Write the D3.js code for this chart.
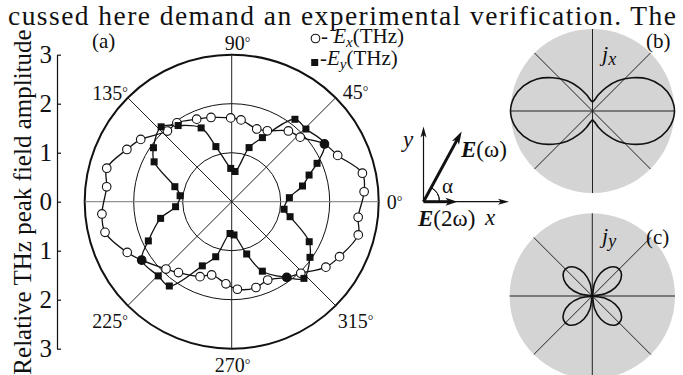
<!DOCTYPE html>
<html><head><meta charset="utf-8">
<script src="https://cdn.jsdelivr.net/npm/d3@7"></script>
<style>
html,body{margin:0;padding:0;background:#fff;}
svg{display:block;}
text{font-family:"Liberation Serif";}
</style></head><body>
<svg id="fig" width="683" height="375" font-family="Liberation Serif"></svg>
<script>
// Measured THz field amplitudes: polar angle (deg) and relative amplitude
const exAngles = [4.3, 12.3, 23.6, 31.9, 43.3, 51.3, 63.3, 71, 83.5, 90.7, 103.8, 113, 124.8, 132.3, 145.6, 153.5, 165, 173.2, 185.4, 193.6, 205.9, 213, 225.7, 233.1, 247.1, 254.7, 266, 273.7, 285.8, 294.7, 306, 314, 325.2, 333, 345.3, 353];
const exValues = [2.71, 2.73, 2.36, 2.23, 1.92, 1.85, 1.62, 1.57, 1.68, 1.71, 1.77, 1.83, 1.96, 1.95, 2.25, 2.39, 2.64, 2.57, 2.66, 2.66, 2.37, 2.19, 1.92, 1.81, 1.66, 1.55, 1.68, 1.79, 1.82, 1.76, 1.91, 2.03, 2.34, 2.47, 2.67, 2.60];
const eyAngles = [4, 12.5, 19, 24.2, 31.9, 44.4, 52.5, 64.4, 72.2, 83.7, 91.7, 106, 112.5, 125.1, 133.3, 145.4, 152.8, 165.2, 173.4, 185.1, 193.2, 205.2, 213, 225.3, 233.5, 245.4, 253.8, 267, 274, 286, 293.8, 306, 313.3, 324.6, 332.7, 345.6, 351.8];
const eyValues = [1.18, 1.48, 1.67, 1.91, 2.23, 2.12, 2.12, 1.45, 1.16, 0.62, 0.68, 1.17, 1.63, 1.90, 2.10, 1.94, 1.78, 1.20, 1.06, 1.15, 1.49, 1.88, 2.19, 2.13, 2.14, 1.44, 1.17, 0.65, 0.68, 1.11, 1.55, 1.91, 2.15, 1.96, 1.78, 1.23, 1.08];

// Axis ticks and angle labels of the polar plot
const yTickValues = [3, 2, 1, 0, -1, -2, -3];
const ringValues = [1, 2, 3];
const spokeAngles = [0, 45, 90, 135];
const angleLabelDeg = [0, 45, 90, 135, 225, 270, 315];

// Calculated current patterns (relative radius, first quadrant every 10 deg)
const jAnglesQ = [0, 10, 20, 30, 40, 50, 60, 70, 80, 90];
const jxRadiusQ = [1.0, 0.97, 0.895, 0.78, 0.63, 0.48, 0.33, 0.21, 0.135, 0.11];
const jyRadiusQ = [0, 0.157, 0.296, 0.398, 0.453, 0.453, 0.398, 0.296, 0.157, 0];

const FONT = "Liberation Serif";
const svg = d3.select("#fig");
const rad = d => d * Math.PI / 180;
const ink = "#111";
const txt = (sel) => sel.append("text").style("font-family", FONT).attr("fill", ink);

// running text line above the figure
txt(svg).attr("x", 8).attr("y", 24.5).attr("font-size", 27.5)
  .attr("textLength", 668).attr("lengthAdjust", "spacing")
  .text("cussed here demand an experimental verification. The");

// ---------- (a) polar plot ----------
const cx = 231.7, cy = 201.7, R = 147;
const rScale = d3.scaleLinear().domain([0, 3]).range([0, R]);
const gA = svg.append("g").attr("transform", `translate(${cx},${cy})`);

gA.selectAll("circle.ring").data(ringValues).join("circle")
  .attr("class", "ring").attr("r", d => rScale(d))
  .attr("fill", "none").attr("stroke", ink)
  .attr("stroke-width", d => d === 3 ? 2 : 1);

gA.selectAll("line.spoke").data(spokeAngles).join("line")
  .attr("class", "spoke")
  .attr("x1", d => -R * Math.cos(rad(d))).attr("y1", d => R * Math.sin(rad(d)))
  .attr("x2", d => R * Math.cos(rad(d))).attr("y2", d => -R * Math.sin(rad(d)))
  .attr("stroke", d => d === 0 ? "#777" : "#222").attr("stroke-width", 1);

// y axis on the left
const yScale = d3.scaleLinear().domain([3, -3]).range([cy - R, cy + R]);
const yAxis = svg.append("g").attr("transform", "translate(57,0)")
  .call(d3.axisLeft(yScale).tickValues(yTickValues).tickFormat(d => Math.abs(d))
    .tickSizeInner(-4).tickSizeOuter(0).tickPadding(5));
yAxis.attr("font-family", FONT).attr("font-size", null);
yAxis.selectAll("text").style("font-family", FONT).attr("font-size", 25).attr("fill", ink);
yAxis.selectAll("path,line").attr("stroke", ink).attr("stroke-width", 1.2);

txt(svg).attr("transform", "translate(31,202) rotate(-90)")
  .attr("text-anchor", "middle").attr("font-size", 25)
  .text("Relative THz peak field amplitude");

// angle labels around the outer ring
const labelLayout = {
  0: [8, 7, "start"], 45: [7, 1, "start"], 90: [-7, -5, "start"], 135: [0, 2, "end"],
  225: [0, 22, "end"], 270: [-17, 23, "start"], 315: [2, 22, "start"]
};
angleLabelDeg.forEach(a => {
  const [dx, dy, anchor] = labelLayout[a];
  const t = txt(svg)
    .attr("x", cx + R * Math.cos(rad(a)) + dx)
    .attr("y", cy - R * Math.sin(rad(a)) + dy)
    .attr("text-anchor", anchor).attr("font-size", 20);
  t.append("tspan").text(a);
  t.append("tspan").attr("font-size", 14).attr("dy", -3).text("°");
});

txt(svg).attr("x", 92).attr("y", 48).attr("font-size", 21).text("(a)");

// curves and markers
const exData = exAngles.map((a, i) => [a, exValues[i]]);
const eyData = eyAngles.map((a, i) => [a, eyValues[i]]);
const radial = d3.lineRadial()
  .angle(d => rad(90 - d[0]))
  .radius(d => rScale(d[1]))
  .curve(d3.curveCatmullRomClosed.alpha(0.5));
const px = d => rScale(d[1]) * Math.cos(rad(d[0]));
const py = d => -rScale(d[1]) * Math.sin(rad(d[0]));

gA.append("path").attr("d", radial(exData)).attr("fill", "none")
  .attr("stroke", ink).attr("stroke-width", 1.3);
gA.append("path").attr("d", radial(eyData)).attr("fill", "none")
  .attr("stroke", ink).attr("stroke-width", 1.3);

// an E_x marker that coincides with an E_y marker prints solid
gA.selectAll("circle.ex").data(exData).join("circle").attr("class", "ex")
  .attr("cx", px).attr("cy", py).attr("r", 4.3)
  .attr("fill", d => eyAngles.includes(d[0]) ? ink : "#fff")
  .attr("stroke", ink).attr("stroke-width", 1.1);
gA.selectAll("rect.ey").data(eyData).join("rect").attr("class", "ey")
  .attr("x", d => px(d) - 3.5).attr("y", d => py(d) - 3.5)
  .attr("width", 7).attr("height", 7).attr("fill", ink);

// legend
svg.append("circle").attr("cx", 315.5).attr("cy", 38.5).attr("r", 4.3)
  .attr("fill", "#fff").attr("stroke", ink).attr("stroke-width", 1.1);
svg.append("rect").attr("x", 311.2).attr("y", 59).attr("width", 7).attr("height", 7).attr("fill", ink);
const leg1 = txt(svg).attr("x", 321).attr("y", 42.5).attr("font-size", 21);
leg1.append("tspan").text("- ");
leg1.append("tspan").attr("font-style", "italic").text("E");
leg1.append("tspan").attr("font-style", "italic").attr("font-size", 15).attr("dy", 4).text("x");
leg1.append("tspan").attr("dy", -4).text("(THz)");
const leg2 = txt(svg).attr("x", 320).attr("y", 65).attr("font-size", 21);
leg2.append("tspan").text("-");
leg2.append("tspan").attr("font-style", "italic").text("E");
leg2.append("tspan").attr("font-style", "italic").attr("font-size", 15).attr("dy", 4).text("y");
leg2.append("tspan").attr("dy", -4).text("(THz)");

// ---------- field geometry sketch ----------
const ox = 423.5, oy = 201.7;
function arrow(x1, y1, x2, y2, w, hl, hw) {
  const L = Math.hypot(x2 - x1, y2 - y1), ux = (x2 - x1) / L, uy = (y2 - y1) / L;
  const bx = x2 - ux * hl, by = y2 - uy * hl;
  svg.append("line").attr("x1", x1).attr("y1", y1)
    .attr("x2", x2 - ux * hl * 0.7).attr("y2", y2 - uy * hl * 0.7)
    .attr("stroke", ink).attr("stroke-width", w);
  const nx = -uy, ny = ux;
  const mx = x2 - ux * hl * 0.75, my = y2 - uy * hl * 0.75;
  svg.append("path").attr("d",
    `M${x2},${y2}L${bx + nx * hw / 2},${by + ny * hw / 2}L${mx},${my}L${bx - nx * hw / 2},${by - ny * hw / 2}Z`)
    .attr("fill", ink);
}
arrow(ox, oy, ox, 126.5, 1.2, 11, 6);
arrow(ox, oy, 509, oy, 1.2, 11, 6);
arrow(ox, oy, 457.5, oy, 3, 12, 8);
const alphaDeg = 61.5, eLen = 80;
arrow(ox, oy, ox + eLen * Math.cos(rad(alphaDeg)), oy - eLen * Math.sin(rad(alphaDeg)), 3, 13, 8);
svg.append("path").attr("d", d3.arc()({innerRadius: 16, outerRadius: 16,
    startAngle: rad(90 - alphaDeg), endAngle: rad(90)}))
  .attr("transform", `translate(${ox},${oy})`).attr("fill", "none")
  .attr("stroke", ink).attr("stroke-width", 1);

txt(svg).attr("x", 403).attr("y", 147).attr("font-size", 23).attr("font-style", "italic").text("y");
txt(svg).attr("x", 485).attr("y", 225).attr("font-size", 23).attr("font-style", "italic").text("x");
txt(svg).attr("x", 442).attr("y", 193).attr("font-size", 21).text("α");
const eW = txt(svg).attr("x", 461).attr("y", 157).attr("font-size", 23);
eW.append("tspan").attr("font-weight", "bold").attr("font-style", "italic").text("E");
eW.append("tspan").text("(ω)");
const e2W = txt(svg).attr("x", 418).attr("y", 226).attr("font-size", 23);
e2W.append("tspan").attr("font-weight", "bold").attr("font-style", "italic").text("E");
e2W.append("tspan").text("(2ω)");

// ---------- (b) and (c) current patterns ----------
function fullTurn(qAngles, qRadius) {
  const pts = [];
  for (let k = 0; k < 4; k++) {
    qAngles.forEach((a, i) => {
      if (i === qAngles.length - 1) return;
      const idx = (k % 2 === 0) ? i : qAngles.length - 1 - i;
      pts.push([k * 90 + a, qRadius[idx]]);
    });
  }
  return pts;
}
function panel(pcx, pcy, pr, data, label, subLetter, labelY, subY) {
  const g = svg.append("g").attr("transform", `translate(${pcx},${pcy})`);
  g.append("circle").attr("r", pr).attr("fill", "#d4d4d4");
  g.selectAll("line").data(spokeAngles).join("line")
    .attr("x1", d => -pr * Math.cos(rad(d))).attr("y1", d => pr * Math.sin(rad(d)))
    .attr("x2", d => pr * Math.cos(rad(d))).attr("y2", d => -pr * Math.sin(rad(d)))
    .attr("stroke", "#222").attr("stroke-width", 1);
  const s = d3.scaleLinear().domain([0, 1]).range([0, pr]);
  const line = d3.lineRadial().angle(d => rad(90 - d[0])).radius(d => s(d[1]))
    .curve(d3.curveCatmullRomClosed.alpha(0.5));
  g.append("path").attr("d", line(data)).attr("fill", "none")
    .attr("stroke", ink).attr("stroke-width", 1.6);
  txt(svg).attr("x", 646).attr("y", labelY).attr("font-size", 21).text(label);
  const jt = txt(svg).attr("x", 602).attr("y", subY).attr("font-size", 22)
    .attr("font-style", "italic");
  jt.append("tspan").text("j");
  jt.append("tspan").attr("font-size", 18).attr("dy", 4).text(subLetter);
}
panel(592.5, 111, 82, fullTurn(jAnglesQ, jxRadiusQ), "(b)", "x", 48, 61);
panel(592.3, 296, 82.7, fullTurn(jAnglesQ, jyRadiusQ), "(c)", "y", 244, 243);
</script>
</body></html>
